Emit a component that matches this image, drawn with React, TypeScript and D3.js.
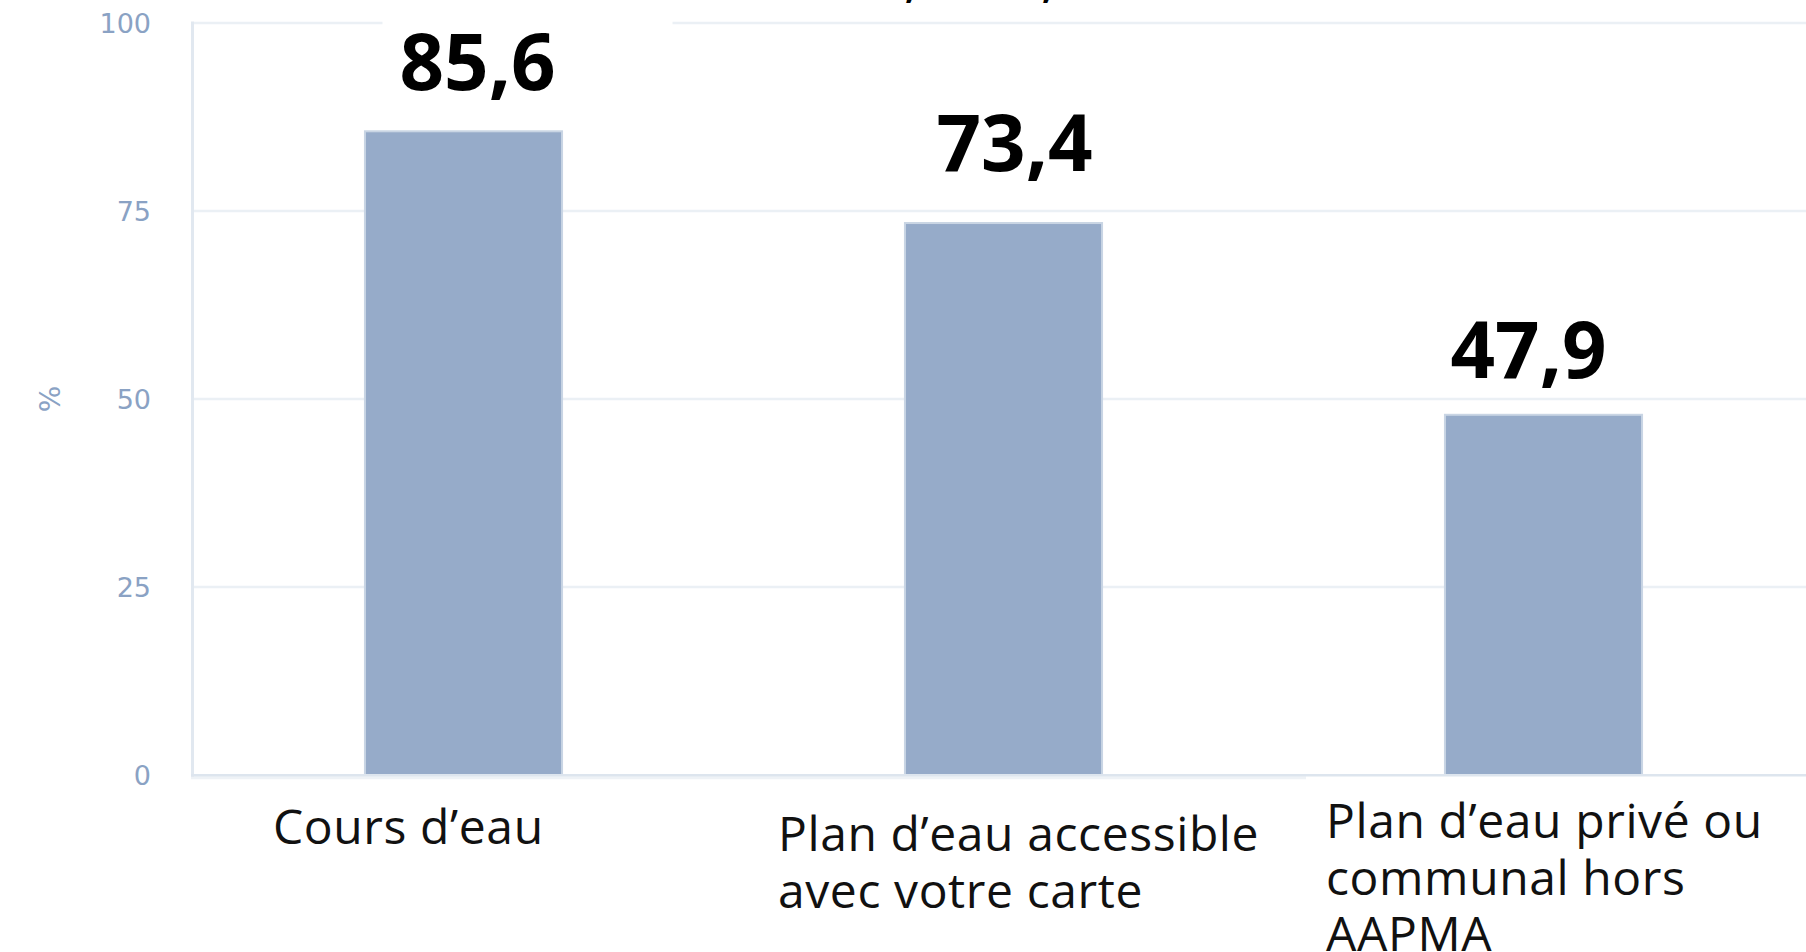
import React from "react";
import * as d3 from "d3";

const categories = ["Cours d'eau", "Plan d'eau accessible avec votre carte", "Plan d'eau privé ou communal hors AAPMA"];
const categoryLines = [["Cours d’eau"], ["Plan d’eau accessible", "avec votre carte"], ["Plan d’eau privé ou", "communal hors", "AAPMA"]];
const values = [85.6, 73.4, 47.9];
const valueLabels = ["85,6", "73,4", "47,9"];
const yTicks = [0, 25, 50, 75, 100];
const yTickLabels = ["0", "25", "50", "75", "100"];
const yAxisTitle = "%";

// layout tweaks (manual placements as in the original)
const valueDx = [14, 11, -15];
const valueGap = [41, 52, 37];
const valueBox = [true, false, true];
const catDx = [79.5, 44.5, 52.5];
const catY = [844, 851, 838];

const W = 1806;
const H = 952;

export default function App() {
  const x = d3
    .scaleBand<string>()
    .domain(categories)
    .range([193.5, 1813.5])
    .paddingInner(0.635)
    .paddingOuter(0.3175);
  const y = d3.scaleLinear().domain([0, 100]).range([775, 23]);
  const bw = x.bandwidth();
  const step = x.step();
  const slotStart = (c: string) => x(c)! + bw / 2 - step / 2;

  return (
    <svg
      width={W}
      height={H}
      style={{ position: "absolute", left: 0, top: 0, background: "#fff" }}
    >
      <rect x={0} y={0} width={W} height={H} fill="#fff" />
      {/* gridlines */}
      {yTicks.filter((t) => t > 0).map((t) => (
        <line key={t} x1={194} x2={W} y1={y(t)} y2={y(t)} stroke="#ebf0f5" strokeWidth={2.7} />
      ))}
      {/* y axis line */}
      <line x1={192.5} x2={192.5} y1={y(100) - 1.5} y2={y(0) + 3} stroke="#e1e8f0" strokeWidth={3} />
      {/* bars */}
      {categories.map((c, i) => (
        <rect
          key={c}
          x={x(c)!}
          y={y(values[i])}
          width={bw}
          height={y(0) - y(values[i])}
          fill="#96abc9"
          stroke="#c9d5e4"
          strokeWidth={2}
        />
      ))}
      {/* x axis line */}
      <line x1={191} x2={W} y1={y(0) + 0.3} y2={y(0) + 0.3} stroke="#dde5ee" strokeWidth={2.7} />
      <line x1={191} x2={W} y1={y(0) + 3} y2={y(0) + 3} stroke="#eef2f6" strokeWidth={2.7} />
      {/* white box behind third category label */}
      <rect x={1306} y={y(0) + 1.7} width={W - 1306} height={H - y(0)} fill="#fff" />
      {/* value label boxes and labels */}
      {categories.map((c, i) => {
        const cx = x(c)! + bw / 2 + valueDx[i];
        const by = y(values[i]) - valueGap[i];
        return (
          <g key={c}>
            {valueBox[i] && (
              <rect x={cx - 95} y={by - 85} width={290} height={100} fill="#fff" />
            )}
            <text
              x={cx}
              y={by}
              textAnchor="middle"
              fontFamily="'Open Sans', 'Noto Sans', sans-serif"
              fontWeight={700}
              fontSize={78}
              fill="#000"
            >
              {valueLabels[i]}
            </text>
          </g>
        );
      })}
      {/* y tick labels */}
      {yTicks.map((t, i) => (
        <text
          key={t}
          x={151}
          y={y(t)}
          dy="0.36em"
          textAnchor="end"
          fontFamily="'DejaVu Sans', sans-serif"
          fontSize={27}
          fill="#8aa2c4"
        >
          {yTickLabels[i]}
        </text>
      ))}
      {/* y axis title */}
      <text
        transform={`translate(50, ${(y(0) + y(100)) / 2}) rotate(-90)`}
        textAnchor="middle"
        dy="0.36em"
        fontFamily="'DejaVu Sans', sans-serif"
        fontSize={28}
        fill="#8aa2c4"
      >
        {yAxisTitle}
      </text>
      {/* category labels */}
      {categories.map((c, i) => (
        <text
          key={c}
          x={slotStart(c) + catDx[i]}
          y={catY[i]}
          fontFamily="'Open Sans', 'Noto Sans', sans-serif"
          fontSize={48}
          letterSpacing={0.6}
          fill="#111"
        >
          {categoryLines[i].map((ln, j) => (
            <tspan key={j} x={slotStart(c) + catDx[i]} dy={j === 0 ? 0 : 56.5}>
              {ln}
            </tspan>
          ))}
        </text>
      ))}
      {/* descenders of the cut-off line above the chart */}
      {[905, 1042].map((px) => (
        <text key={px} x={px} y={-2} fontFamily="'Open Sans', sans-serif" fontWeight={700} fontSize={38} fill="#000">
          ,
        </text>
      ))}
    </svg>
  );
}
